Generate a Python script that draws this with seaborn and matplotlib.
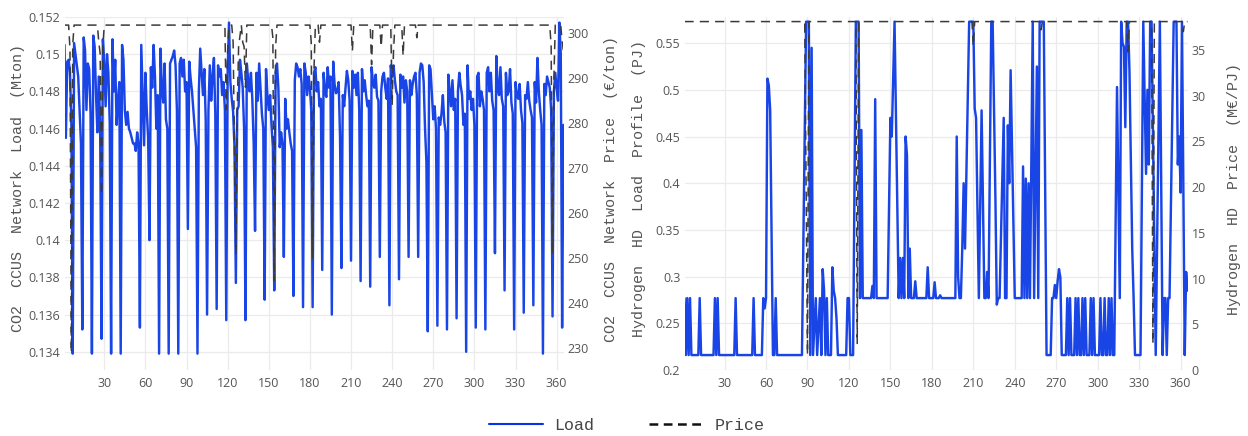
import matplotlib
matplotlib.use("Agg")
import matplotlib.pyplot as plt
import seaborn as sns
from matplotlib.lines import Line2D
from matplotlib.ticker import FuncFormatter

# ---------------- data ----------------
days = list(range(1, 366))

# CO2 CCUS network daily load (Mton), week by week
co2_load = [
    0.1505, 0.1455, 0.1496, 0.1497, 0.1490, 0.1462, 0.1339,
    0.1506, 0.1500, 0.1494, 0.1488, 0.1470, 0.1452, 0.1352,
    0.1509, 0.1502, 0.1470, 0.1495, 0.1492, 0.1468, 0.1339,
    0.1510, 0.1504, 0.1478, 0.1458, 0.1488, 0.1461, 0.1347,
    0.1508, 0.1495, 0.1472, 0.1500, 0.1490, 0.1463, 0.1339,
    0.1508, 0.1480, 0.1497, 0.1462, 0.1475, 0.1485, 0.1339,
    0.1505, 0.1497, 0.1470, 0.1462, 0.1469, 0.1460, 0.1458,
    0.1455, 0.1452, 0.1452, 0.1448, 0.1458, 0.1452, 0.1353,
    0.1505, 0.1478, 0.1451, 0.1490, 0.1470, 0.1455, 0.1400,
    0.1493, 0.1482, 0.1505, 0.1488, 0.1460, 0.1478, 0.1339,
    0.1503, 0.1482, 0.1474, 0.1495, 0.1465, 0.1460, 0.1339,
    0.1495, 0.1497, 0.1499, 0.1502, 0.1494, 0.1470, 0.1339,
    0.1495, 0.1498, 0.1488, 0.1497, 0.1480, 0.1485, 0.1406,
    0.1496, 0.1487, 0.1480, 0.1470, 0.1460, 0.1450, 0.1339,
    0.1480, 0.1503, 0.1490, 0.1478, 0.1492, 0.1465, 0.1360,
    0.1470, 0.1494, 0.1475, 0.1488, 0.1498, 0.1468, 0.1363,
    0.1494, 0.1488, 0.1492, 0.1478, 0.1485, 0.1470, 0.1357,
    0.1490, 0.1517, 0.1485, 0.1476, 0.1469, 0.1450, 0.1377,
    0.1470, 0.1472, 0.1497, 0.1490, 0.1482, 0.1460, 0.1357,
    0.1495, 0.1486, 0.1480, 0.1490, 0.1476, 0.1452, 0.1405,
    0.1490, 0.1475, 0.1495, 0.1482, 0.1468, 0.1460, 0.1368,
    0.1492, 0.1478, 0.1470, 0.1478, 0.1462, 0.1450, 0.1373,
    0.1490, 0.1495, 0.1482, 0.1450, 0.1458, 0.1452, 0.1391,
    0.1476, 0.1460, 0.1465, 0.1458, 0.1452, 0.1448, 0.1370,
    0.1486, 0.1495, 0.1493, 0.1488, 0.1492, 0.1484, 0.1364,
    0.1495, 0.1490, 0.1478, 0.1488, 0.1482, 0.1470, 0.1364,
    0.1490, 0.1493, 0.1480, 0.1485, 0.1472, 0.1476, 0.1384,
    0.1490, 0.1480, 0.1477, 0.1493, 0.1482, 0.1488, 0.1360,
    0.1496, 0.1484, 0.1479, 0.1480, 0.1485, 0.1455, 0.1385,
    0.1478, 0.1472, 0.1482, 0.1491, 0.1486, 0.1475, 0.1389,
    0.1491, 0.1482, 0.1489, 0.1478, 0.1490, 0.1470, 0.1378,
    0.1492, 0.1480, 0.1486, 0.1478, 0.1472, 0.1475, 0.1375,
    0.1493, 0.1485, 0.1482, 0.1489, 0.1477, 0.1475, 0.1391,
    0.1480, 0.1488, 0.1490, 0.1482, 0.1476, 0.1487, 0.1365,
    0.1494, 0.1488, 0.1494, 0.1486, 0.1480, 0.1478, 0.1379,
    0.1489, 0.1482, 0.1488, 0.1474, 0.1486, 0.1480, 0.1391,
    0.1486, 0.1478, 0.1484, 0.1488, 0.1490, 0.1478, 0.1391,
    0.1490, 0.1495, 0.1494, 0.1485, 0.1460, 0.1442, 0.1351,
    0.1494, 0.1492, 0.1478, 0.1465, 0.1472, 0.1460, 0.1354,
    0.1466, 0.1462, 0.1468, 0.1478, 0.1464, 0.1458, 0.1352,
    0.1489, 0.1480, 0.1472, 0.1486, 0.1470, 0.1476, 0.1358,
    0.1480, 0.1490, 0.1483, 0.1478, 0.1462, 0.1468, 0.1340,
    0.1494, 0.1476, 0.1480, 0.1470, 0.1476, 0.1462, 0.1353,
    0.1488, 0.1490, 0.1472, 0.1480, 0.1476, 0.1470, 0.1352,
    0.1490, 0.1493, 0.1480, 0.1490, 0.1475, 0.1470, 0.1393,
    0.1499, 0.1482, 0.1478, 0.1493, 0.1476, 0.1472, 0.1373,
    0.1490, 0.1478, 0.1480, 0.1492, 0.1474, 0.1468, 0.1352,
    0.1485, 0.1478, 0.1476, 0.1484, 0.1470, 0.1463, 0.1361,
    0.1478, 0.1476, 0.1485, 0.1475, 0.1470, 0.1466, 0.1365,
    0.1485, 0.1474, 0.1498, 0.1480, 0.1470, 0.1462, 0.1339,
    0.1484, 0.1478, 0.1488, 0.1485, 0.1482, 0.1470, 0.1359,
    0.1480, 0.1490, 0.1482, 0.1475, 0.1517, 0.1500, 0.1353,
    0.1462,
]

# CO2 CCUS network price (EUR/ton) at the days where it changes
co2_price_day = [1, 4, 5, 6, 7, 8, 25, 26, 27, 28, 29, 30,
                 118, 119, 120, 121, 123, 124, 126, 127, 128, 130,
                 131, 132, 133, 134, 152, 153, 154, 155, 156,
                 180, 181, 182, 183, 184, 186, 187, 188,
                 210, 211, 212, 224, 225, 226, 231, 232, 233,
                 239, 240, 241, 242, 247, 248, 249, 257, 258, 259,
                 355, 356, 357, 358, 359, 363, 364, 365]
co2_price = [301.8, 301.8, 296.5, 229.0, 297.5, 301.8, 301.8, 298.0, 295.5, 264.0, 297.0, 301.8,
             301.8, 283.0, 296.0, 301.8, 301.8, 298.0, 251.0, 283.0, 297.0, 301.8,
             298.0, 297.0, 288.0, 301.8, 301.8, 299.0, 245.0, 297.0, 301.8,
             301.8, 298.0, 250.0, 292.0, 301.8, 301.8, 298.0, 301.8,
             301.8, 296.0, 301.8, 301.8, 293.0, 301.8, 301.8, 297.0, 301.8,
             301.8, 284.0, 296.0, 301.8, 301.8, 295.0, 301.8, 301.8, 299.0, 301.8,
             301.8, 297.0, 251.0, 290.0, 301.8, 301.8, 298.0, 296.0]

# Hydrogen HD load profile (PJ) at the days where it changes
h2_load_day = [1, 2, 3, 4, 5, 6, 11, 12, 13, 22, 23, 24, 25, 26, 37, 38, 39, 50, 51, 52,
               57, 58, 59, 60, 61, 62, 63, 65, 66, 67, 68, 86, 89, 91, 92, 93, 94,
               96, 97, 99, 100, 101, 102, 103, 104, 105, 107, 108, 109, 110, 111, 112,
               118, 119, 120, 121, 123, 125, 127, 128, 129, 130, 136, 137, 138, 139, 140,
               148, 149, 150, 151, 153, 156, 157, 158, 159, 160, 161, 162, 163, 164, 165,
               167, 168, 169, 176, 177, 178, 181, 182, 183, 185, 186, 187,
               197, 198, 199, 200, 201, 202, 203, 204, 207, 210, 211, 212, 214, 216,
               218, 219, 220, 221, 223, 224, 226, 227, 228, 229, 232, 233, 234, 235, 236, 237,
               240, 245, 246, 247, 248, 249, 250, 251, 253, 254, 256, 257, 258, 261, 263,
               266, 267, 268, 269, 270, 271, 272, 273, 274,
               277, 278, 279, 280, 281, 283, 284, 285, 286, 287, 288, 289, 290, 291, 292,
               294, 295, 296, 297, 298, 301, 302, 303, 304, 305, 306, 307, 308, 309, 310, 311, 312,
               314, 316, 317, 318, 319, 320, 321, 322, 323, 325, 326, 327, 331,
               333, 334, 335, 336, 337, 338, 339, 342, 345, 347, 348, 349, 350, 351, 352,
               355, 357, 358, 359, 360, 361, 363, 364, 365]
h2_load = [0.277, 0.216, 0.277, 0.216, 0.277, 0.216, 0.216, 0.277, 0.216, 0.216, 0.277, 0.216, 0.277, 0.216,
           0.216, 0.277, 0.216, 0.216, 0.277, 0.216,
           0.216, 0.277, 0.266, 0.277, 0.512, 0.505, 0.478, 0.216, 0.216, 0.277, 0.216, 0.216,
           0.573, 0.573, 0.216, 0.545, 0.216,
           0.277, 0.216, 0.277, 0.216, 0.308, 0.285, 0.216, 0.277, 0.216, 0.216, 0.310, 0.285,
           0.277, 0.255, 0.216,
           0.216, 0.277, 0.277, 0.216, 0.216, 0.573, 0.573, 0.277, 0.457, 0.277, 0.277, 0.290,
           0.277, 0.490, 0.277,
           0.277, 0.370, 0.470, 0.450, 0.573, 0.277, 0.320, 0.277, 0.320, 0.277, 0.450, 0.430,
           0.277, 0.330, 0.277,
           0.277, 0.295, 0.277, 0.277, 0.310, 0.277, 0.277, 0.294, 0.277, 0.277, 0.280, 0.277,
           0.277, 0.450, 0.300, 0.277, 0.277, 0.330, 0.400, 0.330, 0.573, 0.573, 0.480, 0.470,
           0.277, 0.478,
           0.277, 0.277, 0.305, 0.277, 0.573, 0.573, 0.383, 0.270, 0.277, 0.277, 0.470, 0.277,
           0.277, 0.462, 0.400, 0.521,
           0.277, 0.277, 0.418, 0.277, 0.405, 0.277, 0.400, 0.277, 0.573, 0.277, 0.525, 0.277,
           0.573, 0.573, 0.216,
           0.216, 0.277, 0.277, 0.291, 0.277, 0.295, 0.308, 0.299, 0.216,
           0.216, 0.277, 0.216, 0.277, 0.216, 0.216, 0.277, 0.216, 0.277, 0.216, 0.216, 0.277,
           0.216, 0.277, 0.216,
           0.216, 0.277, 0.216, 0.277, 0.216, 0.216, 0.277, 0.216, 0.216, 0.277, 0.216, 0.216,
           0.277, 0.216, 0.277, 0.216, 0.216,
           0.503, 0.277, 0.573, 0.550, 0.546, 0.460, 0.573, 0.573, 0.520, 0.330, 0.277, 0.216,
           0.216,
           0.573, 0.490, 0.410, 0.500, 0.420, 0.573, 0.573, 0.216, 0.573, 0.216, 0.277, 0.277,
           0.216, 0.277, 0.277,
           0.573, 0.573, 0.420, 0.450, 0.390, 0.573, 0.216, 0.305, 0.285]

# Hydrogen HD price (MEUR/PJ) at the days where it changes
h2_price_day = [1, 88, 90, 91, 125, 126, 127, 209, 210, 211, 258, 259, 260,
                321, 322, 323, 339, 340, 341, 361, 362, 363, 365]
h2_price = [38.1, 38.1, 1.7, 38.1, 38.1, 2.9, 38.1, 38.1, 35.4, 38.1, 38.1, 37.2, 38.1,
            38.1, 34.8, 38.1, 38.1, 2.9, 38.1, 38.1, 37.0, 38.1, 38.1]

x_ticks = [30, 60, 90, 120, 150, 180, 210, 240, 270, 300, 330, 360]
co2_load_ticks = [0.134, 0.136, 0.138, 0.140, 0.142, 0.144, 0.146, 0.148, 0.150, 0.152]
co2_price_ticks = [230, 240, 250, 260, 270, 280, 290, 300]
h2_load_ticks = [0.20, 0.25, 0.30, 0.35, 0.40, 0.45, 0.50, 0.55]
h2_price_ticks = [0, 5, 10, 15, 20, 25, 30, 35]

# ---------------- style ----------------
sns.set_theme(style="white")
plt.rcParams["font.family"] = ["Open Sans", "DejaVu Sans"]

BLUE = "#1a45e6"
DASH = "#3a3a3a"
GRID = "#ebebeb"
TXT = "#555555"
MONO = ["Liberation Mono", "DejaVu Sans Mono"]
DASHES = (0, (6.0, 4.0))

W, H = 1248, 436
fig = plt.figure(figsize=(W / 100, H / 100), dpi=100)
fig.patch.set_facecolor("white")

bottom = (H - 370) / H
height = (370 - 17) / H
ax1 = fig.add_axes([64.5 / W, bottom, 499 / W, height])
ax2 = fig.add_axes([684.5 / W, bottom, 503 / W, height])
ax1r = ax1.twinx()
ax2r = ax2.twinx()

sns.lineplot(x=days, y=co2_load, ax=ax1, color=BLUE, linewidth=1.75,
             estimator=None, sort=False, legend=False)
sns.lineplot(x=co2_price_day, y=co2_price, ax=ax1r, color=DASH, linewidth=1.1,
             linestyle=DASHES, estimator=None, sort=False, legend=False)
sns.lineplot(x=h2_load_day, y=h2_load, ax=ax2, color=BLUE, linewidth=1.75,
             estimator=None, sort=False, legend=False)
sns.lineplot(x=h2_price_day, y=h2_price, ax=ax2r, color=DASH, linewidth=1.1,
             linestyle=DASHES, estimator=None, sort=False, legend=False)

fmt = FuncFormatter(lambda v, p: f"{v:g}")

for ax in (ax1, ax2, ax1r, ax2r):
    for s in ax.spines.values():
        s.set_visible(False)
    ax.set_xlim(1, 365)
    ax.set_xlabel("")
    ax.set_ylabel("")
    ax.tick_params(length=0, labelsize=9, colors=TXT, pad=3)
    ax.yaxis.set_major_formatter(fmt)

for ax in (ax1, ax2):
    ax.set_xticks(x_ticks)
    ax.grid(True, color=GRID, linewidth=0.9)
    ax.set_axisbelow(True)
    ax.tick_params(axis="x", pad=5)
for ax in (ax1r, ax2r):
    ax.grid(False)

ax1.set_yticks(co2_load_ticks)
ax1.set_ylim(0.13302, 0.1520)
ax1r.set_yticks(co2_price_ticks)
ax1r.set_ylim(225.1, 303.6)
ax2.set_yticks(h2_load_ticks)
ax2.set_ylim(0.2, 0.578)
ax2r.set_yticks(h2_price_ticks)
ax2r.set_ylim(0, 38.6)

title_kw = dict(rotation=90, ha="center", va="center", family=MONO, size=10.8, color=TXT)
fig.text(18.5 / W, 1 - 188 / H, "CO2  CCUS  Network  Load  (Mton)", **title_kw)
fig.text(611 / W, 1 - 189 / H, "CO2  CCUS  Network  Price  (€/ton)", **title_kw)
fig.text(639 / W, 1 - 188 / H, "Hydrogen  HD  Load  Profile  (PJ)", **title_kw)
fig.text(1234 / W, 1 - 189 / H, "Hydrogen  HD  Price  (M€/PJ)", **title_kw)

handles = [Line2D([], [], color="#0a2ff0", linewidth=1.5),
           Line2D([], [], color="#111111", linewidth=1.8, linestyle=(0, (3.5, 2.2)))]
leg = fig.legend(handles, ["Load", "Price"], loc="center",
                 bbox_to_anchor=(626.7 / W, 11 / H), ncol=2, frameon=False,
                 prop={"family": MONO, "size": 12}, handlelength=3.2,
                 handletextpad=0.7, columnspacing=3.3)
for t in leg.get_texts():
    t.set_color("#444444")

fig.savefig("out.png", dpi=100, facecolor="white")
